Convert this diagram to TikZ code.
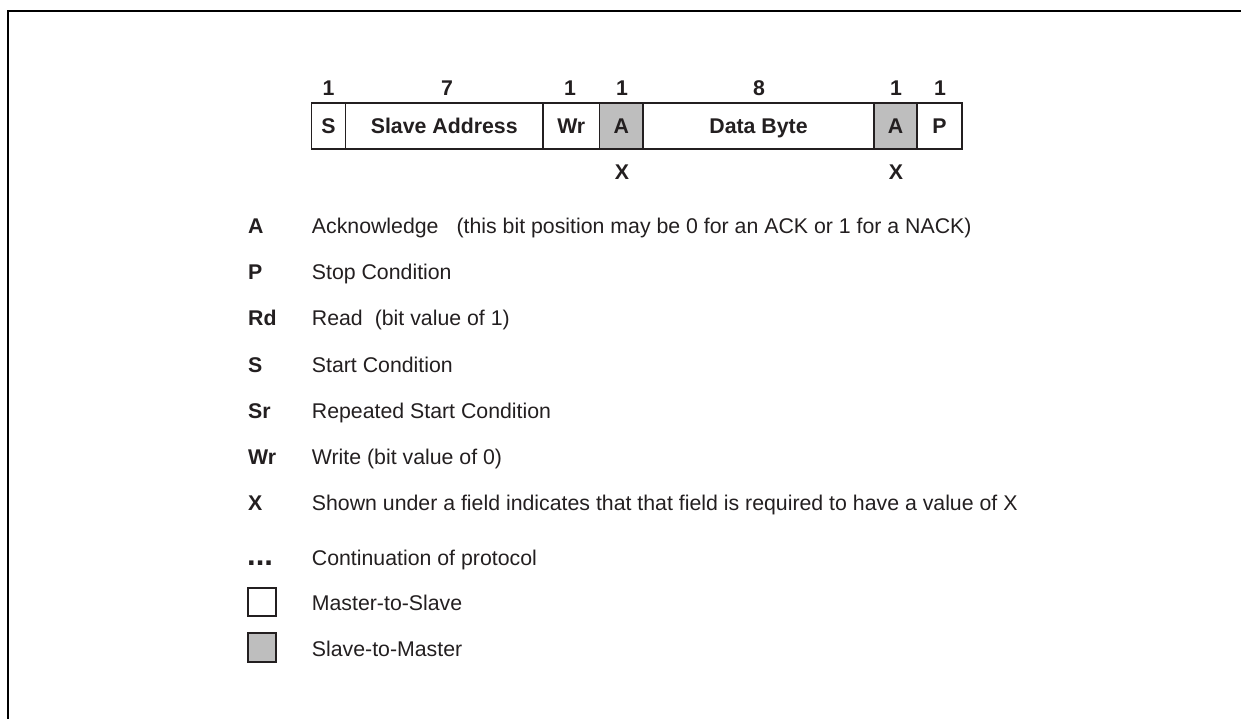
\documentclass[tikz,border=0pt]{standalone}
\usepackage{fontspec}
\setmainfont{Liberation Sans}
\definecolor{ink}{RGB}{35,31,32}
\definecolor{ackgray}{RGB}{190,190,190}
\newcommand\dgsz{\fontsize{21.3bp}{25bp}\selectfont}
\newcommand\dgdots{\fontsize{31bp}{31bp}\selectfont}
\begin{document}
\begin{tikzpicture}[x=1bp,y=-1bp,
  field/.style={draw=ink, line width=1.6bp, minimum height=46bp, inner sep=0pt,
    text height=15.3bp, text depth=0pt, font=\dgsz\bfseries, text=ink},
  slavefield/.style={field, fill=ackgray},
  lbl/.style={inner sep=0pt, text height=15.3bp, text depth=0pt, font=\dgsz\bfseries, text=ink},
  keytxt/.style={lbl, anchor=west},
  dotstxt/.style={keytxt, font=\dgdots\bfseries},
  desc/.style={inner sep=0pt, text height=15.3bp, text depth=0pt, font=\dgsz, text=ink, anchor=west},
  swatch/.style={draw=ink, line width=1.8bp, minimum width=28.5bp, minimum height=28.5bp, inner sep=0pt},
  frame/.style={draw=black, line width=2bp}]
\useasboundingbox (0,0) rectangle (1241,719);
% open frame (top and left edges)
\coordinate (fbl) at (8,725);
\coordinate (ftl) at (8,11);
\coordinate (ftr) at (1250,11);
\draw[frame] (fbl) -- (ftl) -- (ftr);
% protocol fields
\node[field, minimum width=34bp] (fS) at (328.5,126) {S};
\node[field, minimum width=197.5bp] (fAddr) at (444.25,126) {Slave Address};
\node[field, minimum width=56.5bp] (fWr) at (571.25,126) {Wr};
\node[slavefield, minimum width=43.5bp] (fA1) at (621.25,126) {A};
\node[field, minimum width=231bp] (fData) at (758.5,126) {Data Byte};
\node[slavefield, minimum width=43bp] (fA2) at (895.5,126) {A};
\node[field, minimum width=45bp] (fP) at (939.5,126) {P};
% bit counts
\node[lbl] (nS) at (328.5,88) {1};
\node[lbl] (nAddr) at (447,88) {7};
\node[lbl] (nWr) at (570,88) {1};
\node[lbl] (nA1) at (622,88) {1};
\node[lbl] (nData) at (759,88) {8};
\node[lbl] (nA2) at (896,88) {1};
\node[lbl] (nP) at (940,88) {1};
% required values
\node[lbl] (xA1) at (622,172) {X};
\node[lbl] (xA2) at (896,172) {X};
% legend
\node[keytxt] (kA) at (248,226) {A};
\node[desc] (dA) at (311.7,226) {Acknowledge\hspace*{18bp}(this bit position may be 0 for an ACK or 1 for a NACK)};
\node[keytxt] (kP) at (248,272) {P};
\node[desc] (dP) at (311.7,272) {Stop Condition};
\node[keytxt] (kRd) at (248,318) {Rd};
\node[desc] (dRd) at (311.7,318) {Read\hspace*{12bp}(bit value of 1)};
\node[keytxt] (kS) at (248,364.5) {S};
\node[desc] (dS) at (311.7,364.5) {Start Condition};
\node[keytxt] (kSr) at (248,411) {Sr};
\node[desc] (dSr) at (311.7,411) {Repeated Start Condition};
\node[keytxt] (kWr) at (248,456.5) {Wr};
\node[desc] (dWr) at (311.7,456.5) {Write (bit value of 0)};
\node[keytxt] (kX) at (248,502.5) {X};
\node[desc] (dX) at (311.7,502.5) {Shown under a field indicates that that field is required to have a value of X};
\node[dotstxt] (kDots) at (247,557.5) {...};
\node[desc] (dDots) at (311.7,557.5) {Continuation of protocol};
\node[swatch] (kMS) at (262,602) {};
\node[desc] (dMS) at (311.7,602.5) {Master-to-Slave};
\node[swatch, fill=ackgray] (kSM) at (262,647.5) {};
\node[desc] (dSM) at (311.7,648.5) {Slave-to-Master};
\end{tikzpicture}
\end{document}
